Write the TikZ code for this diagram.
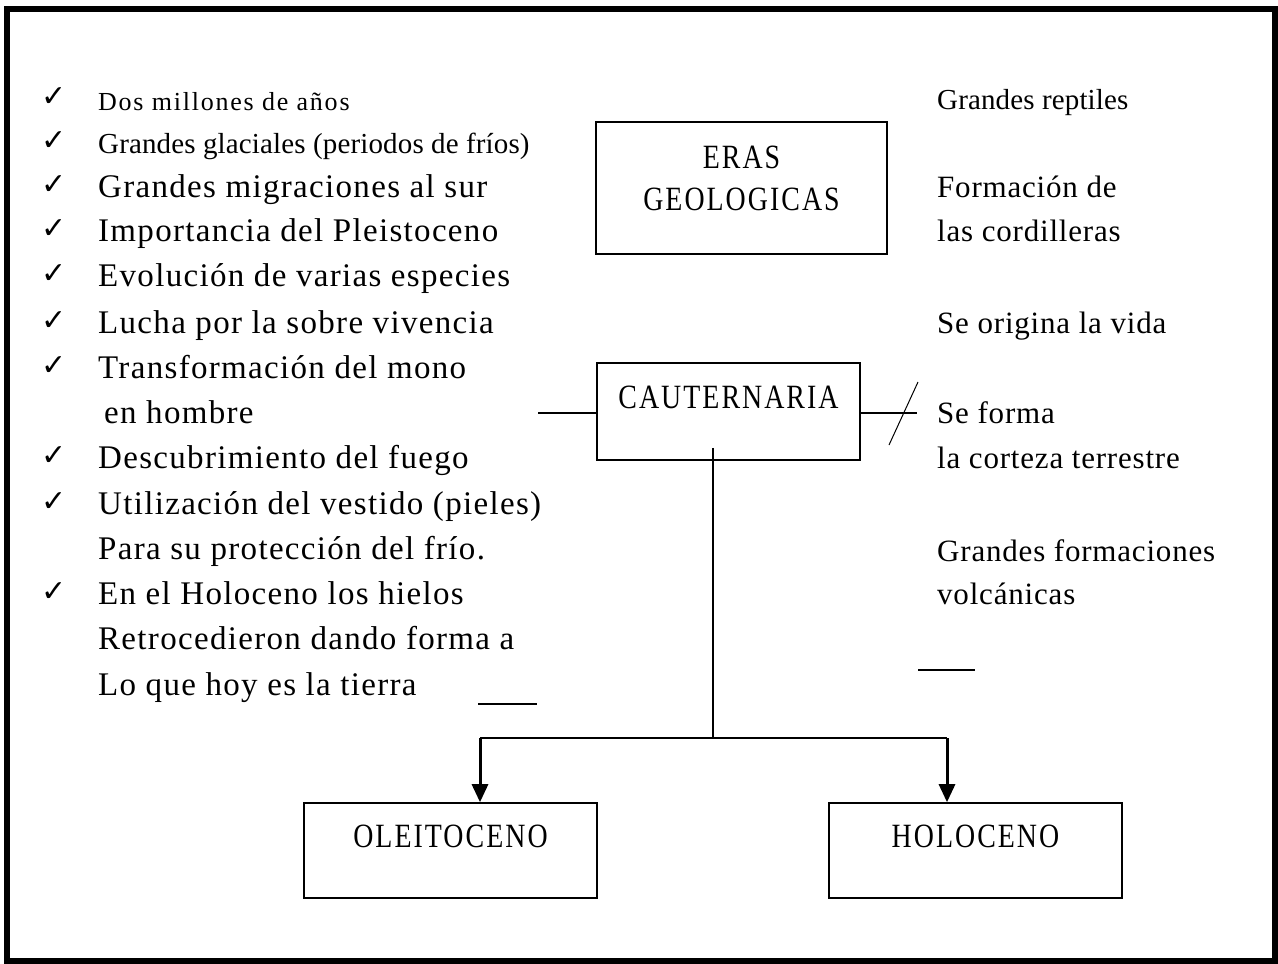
\documentclass[tikz,border=0pt]{standalone}
\usepackage{fontspec}
\setmainfont{Liberation Serif}
\newfontfamily\txtfont[LetterSpace=4]{Liberation Serif}
\newfontfamily\rtfont[LetterSpace=2.6]{Liberation Serif}
\newfontfamily\smfont[LetterSpace=0.5]{Liberation Serif}
\newfontfamily\dosfont[LetterSpace=6.8]{Liberation Serif}
\newfontfamily\boxfont[LetterSpace=6,FakeStretch=0.82]{Liberation Serif}
\newfontfamily\chkfont{DejaVu Sans}
\usetikzlibrary{arrows.meta}
\tikzset{
  txt/.style={anchor=base west, inner sep=0pt, font={\txtfont\fontsize{33}{38}\selectfont}},
  rtxt/.style={anchor=base west, inner sep=0pt, font={\rtfont\fontsize{31}{36}\selectfont}},
  small/.style={anchor=base west, inner sep=0pt, font={\smfont\fontsize{29}{35}\selectfont}},
  tiny/.style={anchor=base west, inner sep=0pt, font={\dosfont\fontsize{26}{30}\selectfont}},
  chk/.style={anchor=base, inner sep=0pt, font={\chkfont\fontsize{30}{30}\selectfont}},
  box/.style={draw, line width=1.6pt, inner sep=0pt, anchor=base, font={\boxfont\fontsize{34}{42}\selectfont}},
  conn/.style={line width=1.6pt},
  arr/.style={line width=3pt, -{Triangle[length=18pt,width=16pt]}},
}
\begin{document}
\begin{tikzpicture}[x=1pt,y=-1pt]
\useasboundingbox (0,0) rectangle (1278,964);
\fill[white] (0,0) rectangle (1278,964);
\draw[line width=6pt] (7,8.5) rectangle (1274.5,961);

% boxes
\node[box, minimum width=291pt, text height=88pt, text depth=44pt] (eras) at (741.5,210)
  {\begin{tabular}[b]{@{}c@{}}ERAS\\GEOLOGICAS\end{tabular}};
\node[box, minimum width=263pt, text height=45pt, text depth=52pt] (caut) at (728.5,408) {CAUTERNARIA};
\node[box, minimum width=293pt, text height=44pt, text depth=51pt] (oleit) at (450.5,847) {OLEITOCENO};
\node[box, minimum width=293pt, text height=44pt, text depth=51pt] (holo) at (975.5,847) {HOLOCENO};

% connectors
\coordinate (split) at (713,738);
\coordinate (la) at (480,738);
\coordinate (ra) at (947,738);
\coordinate (lend) at (538,413);
\coordinate (rend) at (917,413);
\draw[conn] ([yshift=13pt]caut.south -| split) -- (split);
\draw[conn] (la) -- (ra);
\draw[arr] (la) -- (la |- oleit.north);
\draw[arr] (ra) -- (ra |- holo.north);
\draw[conn] (lend) -- (lend -| caut.west);
\draw[conn] (rend -| caut.east) -- (rend);
\draw[line width=1pt] (889,445) -- (918,382);

% short dashes
\draw[conn] (478,704) -- (537,704);
\draw[conn] (918,670) -- (975,670);

% left column
\foreach \y in {106,150,194,238,283,330,375,465,511,601}
  \node[chk] at (54,\y) {✓};
\node[tiny] (l1) at (98,110) {Dos millones de años};
\node[small] (l2) at (98,153) {Grandes glaciales (periodos de fríos)};
\node[txt] (l3) at (98,197) {Grandes migraciones al sur};
\node[txt] (l4) at (98,241) {Importancia del Pleistoceno};
\node[txt] (l5) at (98,286) {Evolución de varias especies};
\node[txt] (l6) at (98,333) {Lucha por la sobre vivencia};
\node[txt] (l7) at (98,378) {Transformación del mono};
\node[txt] (l8) at (104,423) {en hombre};
\node[txt] (l9) at (98,468) {Descubrimiento del fuego};
\node[txt] (l10) at (98,514) {Utilización del vestido (pieles)};
\node[txt] (l11) at (98,559) {Para su protección del frío.};
\node[txt] (l12) at (98,604) {En el Holoceno los hielos};
\node[txt] (l13) at (98,649) {Retrocedieron dando forma a};
\node[txt] (l14) at (98,695) {Lo que hoy es la tierra};

% right column
\node[small] (r1) at (937,109) {Grandes reptiles};
\node[rtxt] (r2) at (937,197) {Formación de};
\node[rtxt] (r3) at (937,241) {las cordilleras};
\node[rtxt] (r4) at (937,333) {Se origina la vida};
\node[rtxt] (r5) at (937,423) {Se forma};
\node[rtxt] (r6) at (937,468) {la corteza terrestre};
\node[rtxt] (r7) at (937,561) {Grandes formaciones};
\node[rtxt] (r8) at (937,604) {volcánicas};
\end{tikzpicture}
\end{document}
